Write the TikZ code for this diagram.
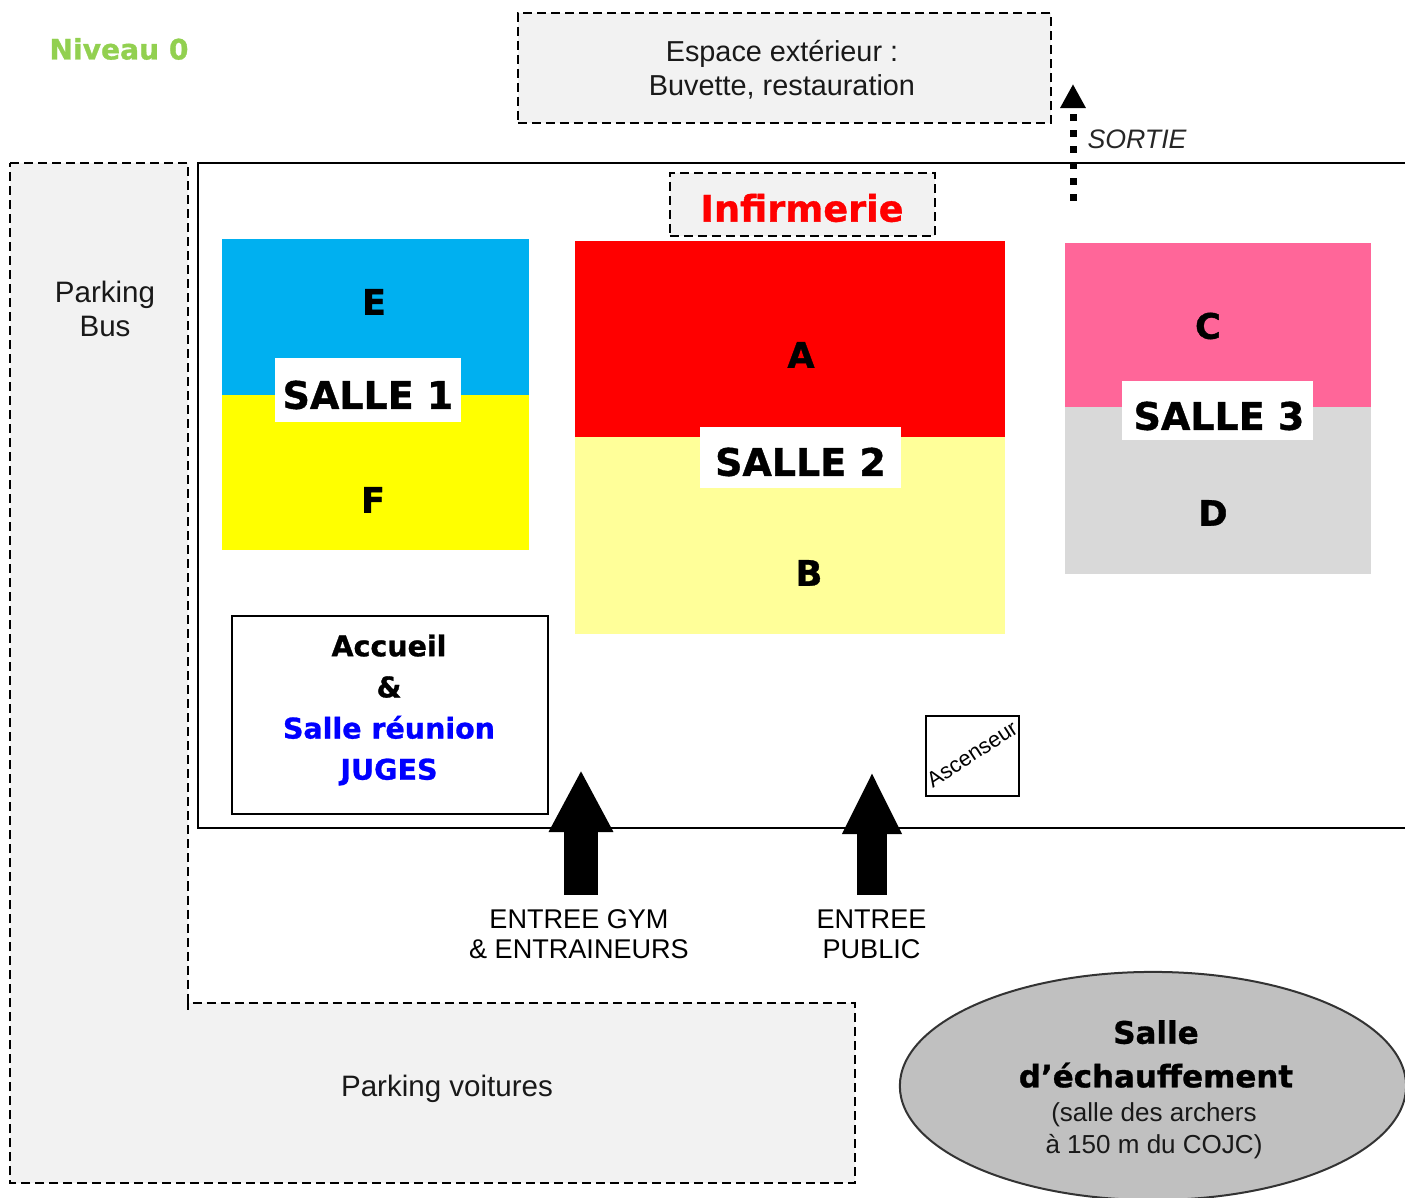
\documentclass[tikz,border=0pt]{standalone}
\usepackage{fontspec}
\setmainfont{Liberation Sans}
\newfontfamily\boldfont{DejaVu Sans}[BoldFeatures={FakeBold=1}]
\usetikzlibrary{arrows.meta,shapes.geometric}
\definecolor{parkGray}{HTML}{F2F2F2}
\definecolor{niveauGreen}{HTML}{92D050}
\tikzset{
	zone/.style={draw=black, dashed, dash pattern=on 0.09cm off 0.05cm, line width=0.02cm, fill=parkGray, inner sep=0, outer sep=0},
	room/.style={inner sep=0, outer sep=0, minimum width=#1},
	place/.style={font=\fontsize{8.4}{9.7}\selectfont, text=black!90, align=center, inner sep=0},
	letter/.style={font=\boldfont\bfseries\fontsize{10}{10}\selectfont, inner sep=0},
	salle/.style={fill=white, inner sep=0, outer sep=0, font=\boldfont\bfseries\fontsize{10.8}{10.8}\selectfont},
	entry/.style={font=\fontsize{7.7}{8.6}\selectfont, align=center, inner sep=0}
}
\begin{document}
\begin{tikzpicture}[x=0.01cm, y=-0.01cm]
	\useasboundingbox (0,0) rectangle (1405,1198);
	\clip (0,0) rectangle (1405,1198);

	% parkings and building
	\draw[zone] (10,163) -- (188,163) -- (188,1010) -- (188,1003) -- (855,1003) -- (855,1183) -- (10,1183) -- cycle;
	\node[place] (parkBus) at (105,309) {Parking\\Bus};
	\node[place] (parkCar) at (447,1089) {Parking voitures};
	\draw[line width=0.02cm] (1405,163) -- (198,163) -- (198,828) -- (1405,828);

	\node[zone, minimum width=5.33cm, minimum height=1.1cm] (outside) at (784.5,68) {};
	\node[place, font=\fontsize{8.2}{9.7}\selectfont] (outsideText) at (782,70) {Espace ext\'erieur :\\Buvette, restauration};
	\node[inner sep=0, font=\boldfont\bfseries\fontsize{8}{8}\selectfont, text=niveauGreen] (niveau) at (119,49) {Niveau 0};

	% rooms
	\node[room=3.07cm, minimum height=1.56cm, fill={rgb,255:red,0;green,176;blue,240}] (roomE) at (375.5,317) {};
	\node[room=3.07cm, minimum height=1.55cm, fill={rgb,255:red,255;green,255;blue,0}] (roomF) at (375.5,472.5) {};
	\node[room=4.30cm, minimum height=1.96cm, fill={rgb,255:red,255;green,0;blue,0}] (roomA) at (790,339) {};
	\node[room=4.30cm, minimum height=1.97cm, fill={rgb,255:red,255;green,255;blue,153}] (roomB) at (790,535.5) {};
	\node[room=3.06cm, minimum height=1.64cm, fill={rgb,255:red,255;green,102;blue,153}] (roomC) at (1218,325) {};
	\node[room=3.06cm, minimum height=1.67cm, fill={rgb,255:red,217;green,217;blue,217}] (roomD) at (1218,490.5) {};

	\node[letter] (lblE) at (374,302) {E};
	\node[letter] (lblF) at (373,500) {F};
	\node[letter] (lblA) at (801,355) {A};
	\node[letter] (lblB) at (809,573) {B};
	\node[letter] (lblC) at (1208,326) {C};
	\node[letter] (lblD) at (1213,513) {D};

	\node[salle, minimum width=1.86cm, minimum height=0.64cm] (salleOne) at (368,390) {};
	\node[salle, minimum width=2.01cm, minimum height=0.61cm] (salleTwo) at (800.5,457.5) {};
	\node[salle, minimum width=1.91cm, minimum height=0.59cm] (salleThree) at (1217.5,410.5) {};
	\node[salle, fill=none] (salleOneText) at (368,395) {SALLE 1};
	\node[salle, fill=none] (salleTwoText) at (800.5,462) {SALLE 2};
	\node[salle, fill=none] (salleThreeText) at (1219,416) {SALLE 3};

	\node[zone, minimum width=2.65cm, minimum height=0.63cm] (infirmerie) at (802.5,204.5) {};
	\node[text=red, inner sep=0, font=\boldfont\bfseries\fontsize{10.4}{10.4}\selectfont] (infirmerieText) at (802,208) {Infirmerie};

	% accueil
	\node[draw=black, line width=0.02cm, fill=white, minimum width=3.16cm, minimum height=1.98cm, inner sep=0] (accueil) at (390,715) {};
	\node[inner sep=0, align=center, font=\boldfont\bfseries\fontsize{8.1}{11.7}\selectfont] (accueilText) at (389,710)
		{Accueil\\\&\\\textcolor{blue}{Salle r\'eunion}\\\textcolor{blue}{JUGES}};

	\node[draw=black, line width=0.02cm, fill=white, minimum width=0.93cm, minimum height=0.80cm, inner sep=0] (lift) at (972.5,756) {};
	\node[rotate=33, font=\fontsize{6.2}{6}\selectfont, inner sep=0] (liftText) at (972,754) {Ascenseur};

	% entrances
	\coordinate (gymBase) at (581,895);
	\coordinate (gymTip) at (581,770);
	\draw[-{Triangle[length=0.62cm,width=0.60cm]}, line width=0.34cm] (gymBase) -- (gymTip);
	\coordinate (publicBase) at (872,895);
	\coordinate (publicTip) at (872,772);
	\draw[-{Triangle[length=0.62cm,width=0.55cm]}, line width=0.30cm] (publicBase) -- (publicTip);
	\node[entry] (gymText) at (579,934) {ENTREE GYM\\\& ENTRAINEURS};
	\node[entry] (publicText) at (871.5,934) {ENTREE\\PUBLIC};

	% exit
	\coordinate (exitBase) at (1073,201);
	\coordinate (exitTip) at (1073,84);
	\draw[-{Triangle[length=0.24cm,width=0.24cm]}, line width=0.07cm, dash pattern=on 0.07cm off 0.09cm] (exitBase) -- (exitTip);
	\node[font=\itshape\fontsize{7.6}{8}\selectfont, text=black!85, inner sep=0] (exitText) at (1137,139) {SORTIE};

	% warm-up hall
	\node[ellipse, draw=black!80, line width=0.02cm, fill={rgb,255:red,192;green,192;blue,192}, minimum width=5.06cm, minimum height=2.28cm, inner sep=0] (warmup) at (1153,1086) {};
	\node[font=\boldfont\bfseries\fontsize{8.8}{12.4}\selectfont, align=center, inner sep=0] (warmupTitle) at (1156,1054) {Salle\\d’\'echauffement};
	\node[place, font=\fontsize{7.4}{9}\selectfont] (warmupNote) at (1154,1131) {(salle des archers\\\`a 150 m du COJC)};
\end{tikzpicture}
\end{document}
